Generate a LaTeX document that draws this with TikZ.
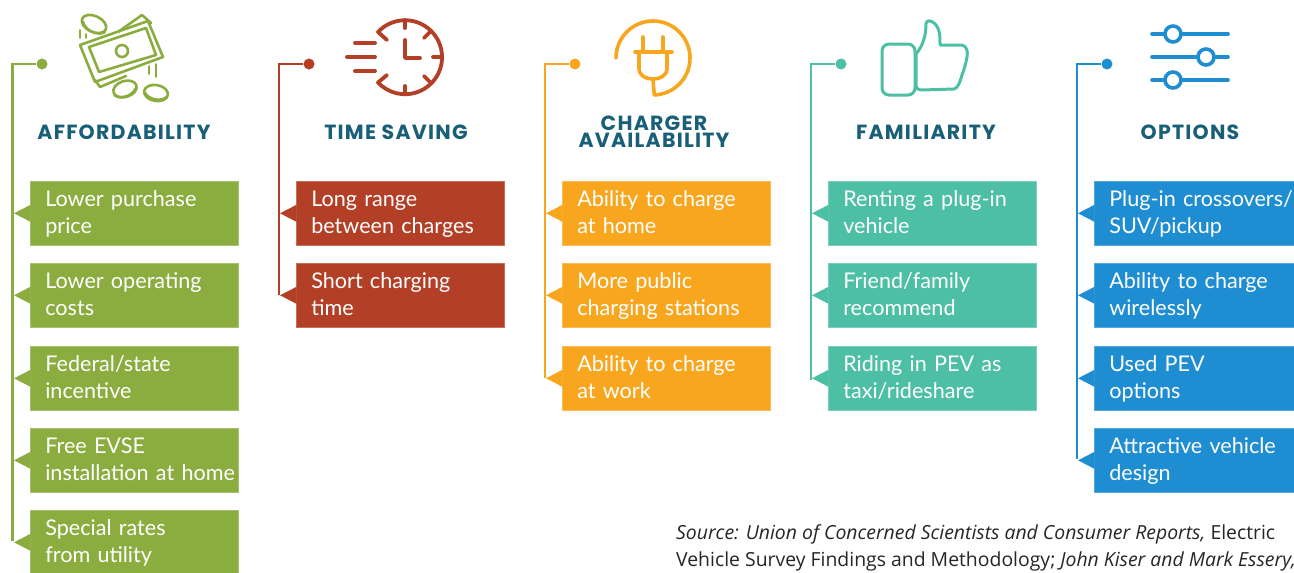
\documentclass[tikz,border=0pt]{standalone}
\usepackage{fontspec}
\setmainfont{Lato}
\newfontfamily\headfont[LetterSpace=6]{Poppins}
\newfontfamily\srcfont{Open Sans}
\usetikzlibrary{calc}
\definecolor{cgreen}{HTML}{8BAD3F}
\definecolor{cred}{HTML}{B23F26}
\definecolor{corange}{HTML}{F9A61F}
\definecolor{cteal}{HTML}{4DBFA5}
\definecolor{cblue}{HTML}{1F8DD1}
\definecolor{chead}{HTML}{195F78}
\newcommand\linestrut{\rule[-6.5pt]{0pt}{26.5pt}}
\newcommand\twolines[2]{\hspace*{15pt}\linestrut#1\\\hspace*{15pt}\linestrut#2}
\newcommand\tabmark[2]{\fill[#2] ($(#1.west)+(0.5,8.5)$) -- ($(#1.west)+(-16,0)$) -- ($(#1.west)+(0.5,-8.5)$) -- cycle;}
\tikzset{x=1pt,y=-1pt,
  itembox/.style={draw=#1!75!white,line width=0.6pt,fill=#1,anchor=north west,minimum height=64pt,text width=208pt,inner xsep=0pt,inner ysep=0pt,align=left,text=white,font=\fontsize{21.6}{26.5}\selectfont},
  heading/.style={text=chead,font=\headfont\bfseries\fontsize{20.5}{17.5}\selectfont,inner sep=0pt},
  dotnode/.style={circle,fill=#1,minimum size=11pt,inner sep=0pt},
  trunk/.style={draw=#1,line width=2.4pt},
  icon/.style={draw=#1,line width=3pt,line cap=round,line join=round},
  srcnote/.style={anchor=base west,inner sep=0pt,font=\srcfont\fontsize{19.4}{27}\selectfont,align=left,text=black!85}}
\begin{document}
\begin{tikzpicture}
\useasboundingbox (0,0) rectangle (1294,573);
\fill[white] (0,0) rectangle (1294,573);
% ---- column 1
\node[heading] (h1) at (124,132) {AFFORDABILITY};
\node[dotnode=cgreen] (d1) at (42,64) {};
\coordinate (t1) at (12.5,541);
\draw[trunk=cgreen] (d1) -| (t1);
\node[itembox=cgreen] (a1) at (30,181) {\twolines{Lower purchase}{price}};
\node[itembox=cgreen] (a2) at (30,263) {\twolines{Lower operating}{costs}};
\node[itembox=cgreen] (a3) at (30,346) {\twolines{Federal/state}{incentive}};
\node[itembox=cgreen] (a4) at (30,428) {\twolines{Free EVSE}{installation at home}};
\node[itembox=cgreen] (a5) at (30,510) {\twolines{Special rates}{from utility}};
\foreach \n in {a1,a2,a3,a4,a5} {\tabmark{\n}{cgreen}}
% ---- column 2
\node[heading] (h2) at (396,132) {TIME SAVING};
\node[dotnode=cred] (d2) at (309,64) {};
\coordinate (t2) at (279,295);
\draw[trunk=cred] (d2) -| (t2);
\node[itembox=cred] (b1) at (296,181) {\twolines{Long range}{between charges}};
\node[itembox=cred] (b2) at (296,263) {\twolines{Short charging}{time}};
\foreach \n in {b1,b2} {\tabmark{\n}{cred}}
% ---- column 3
\node[heading,align=center] (h3) at (654,131.5) {CHARGER\\AVAILABILITY};
\node[dotnode=corange] (d3) at (575,64) {};
\coordinate (t3) at (545,378);
\draw[trunk=corange] (d3) -| (t3);
\node[itembox=corange] (c1) at (562,181) {\twolines{Ability to charge}{at home}};
\node[itembox=corange] (c2) at (562,263) {\twolines{More public}{charging stations}};
\node[itembox=corange] (c3) at (562,346) {\twolines{Ability to charge}{at work}};
\foreach \n in {c1,c2,c3} {\tabmark{\n}{corange}}
% ---- column 4
\node[heading] (h4) at (926,132) {FAMILIARITY};
\node[dotnode=cteal] (d4) at (841,64) {};
\coordinate (t4) at (811,380);
\draw[trunk=cteal] (d4) -| (t4);
\node[itembox=cteal] (e1) at (828,181) {\twolines{Renting a plug-in}{vehicle}};
\node[itembox=cteal] (e2) at (828,263) {\twolines{Friend/family}{recommend}};
\node[itembox=cteal] (e3) at (828,346) {\twolines{Riding in PEV as}{taxi/rideshare}};
\foreach \n in {e1,e2,e3} {\tabmark{\n}{cteal}}
% ---- column 5
\node[heading] (h5) at (1190,132) {OPTIONS};
\node[dotnode=cblue] (d5) at (1107,64) {};
\coordinate (t5) at (1077,459);
\draw[trunk=cblue] (d5) -| (t5);
\node[itembox=cblue] (f1) at (1094,181) {\twolines{Plug-in crossovers/}{SUV/pickup}};
\node[itembox=cblue] (f2) at (1094,263) {\twolines{Ability to charge}{wirelessly}};
\node[itembox=cblue] (f3) at (1094,346) {\twolines{Used PEV}{options}};
\node[itembox=cblue] (f4) at (1094,428) {\twolines{Attractive vehicle}{design}};
\foreach \n in {f1,f2,f3,f4} {\tabmark{\n}{cblue}}
% ---- source
\node[srcnote] (src) at (676,566) {\itshape Source: Union of Concerned Scientists and Consumer Reports, \upshape Electric\\Vehicle Survey Findings and Methodology; \itshape John Kiser and Mark Essery,};
% ---- money icon
\begin{scope}[icon=cgreen,line width=2.6pt]
\draw (118,32) -- (142,15) -- (151,23);
\draw (95,80) -- (100,87) -- (126,76);
\draw (80,45) -- (148,21) -- (163,57) -- (95,82) -- cycle;
\draw (89,47) -- (146,28) -- (156,55) -- (99,72) -- cycle;
\draw (122,51) circle (6);
\filldraw[fill=white,rotate around={-25:(94,24)}] (94,24) ellipse [x radius=13,y radius=8];
\draw[rotate around={-25:(94,27)}] (82,27) .. controls (87,34) and (101,34) .. (106,27);
\filldraw[fill=white,rotate around={18:(125,89)}] (125,89) ellipse [x radius=12,y radius=8];
\draw[rotate around={18:(125,92)}] (114,92) .. controls (119,98) and (131,98) .. (136,92);
\filldraw[fill=white,rotate around={-10:(156,93)}] (156,93) ellipse [x radius=12,y radius=8];
\draw[rotate around={-10:(156,95)}] (145,95) .. controls (150,101) and (162,101) .. (167,95);
\draw[line width=1.8pt] (80,30) -- (80,38) (86,34) -- (86,38);
\draw[line width=1.8pt] (149,66) -- (149,74) (156,64) -- (156,77);
\end{scope}
% ---- clock icon
\begin{scope}[icon=cred,line width=3.8pt]
\draw (387,40) -- (378,32) arc [start angle=-137,end angle=137,radius=37] -- (387,75);
\draw (405,20) -- (405,28) (405,94) -- (405,86);
\draw (431,31) -- (424,38) (431,83) -- (424,76);
\draw (442,57) -- (433,57);
\draw (405,40) -- (405,58) -- (420,58);
\draw (355,43) -- (375,43) (347,57) -- (375,57) (355,71) -- (375,71);
\end{scope}
% ---- plug icon
\begin{scope}[icon=corange,line width=3.6pt]
\draw (616,58) arc [start angle=180,end angle=448,radius=37] -- (653,80);
\draw (635,52) -- (672,52);
\draw (639,52) -- (639,68) .. controls (639,76) and (646,79) .. (653,79) .. controls (660,79) and (667,76) .. (667,68) -- (667,52);
\draw (643,37) -- (643,52) (663,37) -- (663,52);
\end{scope}
% ---- thumb icon
\begin{scope}[icon=cteal,line width=3pt]
\draw[rounded corners=7pt] (882,44) rectangle (915,95);
\draw (916,54) .. controls (923,46) and (926,35) .. (926,24) .. controls (926,20) and (931,20) .. (934,23) .. controls (940,28) and (940,36) .. (940,45) -- (962,45) .. controls (967,46) and (968,52) .. (967,57) .. controls (966,63) and (964,70) .. (962,75) .. controls (960,82) and (958,88) .. (954,89) -- (922,90) .. controls (918,90) and (916,88) .. (916,86) -- cycle;
\end{scope}
% ---- slider icon
\begin{scope}[icon=cblue,line width=3.6pt]
\draw (1152,34) -- (1228,34) (1152,57) -- (1228,57) (1152,80) -- (1228,80);
\filldraw[fill=white] (1173,34) circle (8) (1206,57) circle (8) (1173,80) circle (8);
\end{scope}
\end{tikzpicture}
\end{document}
